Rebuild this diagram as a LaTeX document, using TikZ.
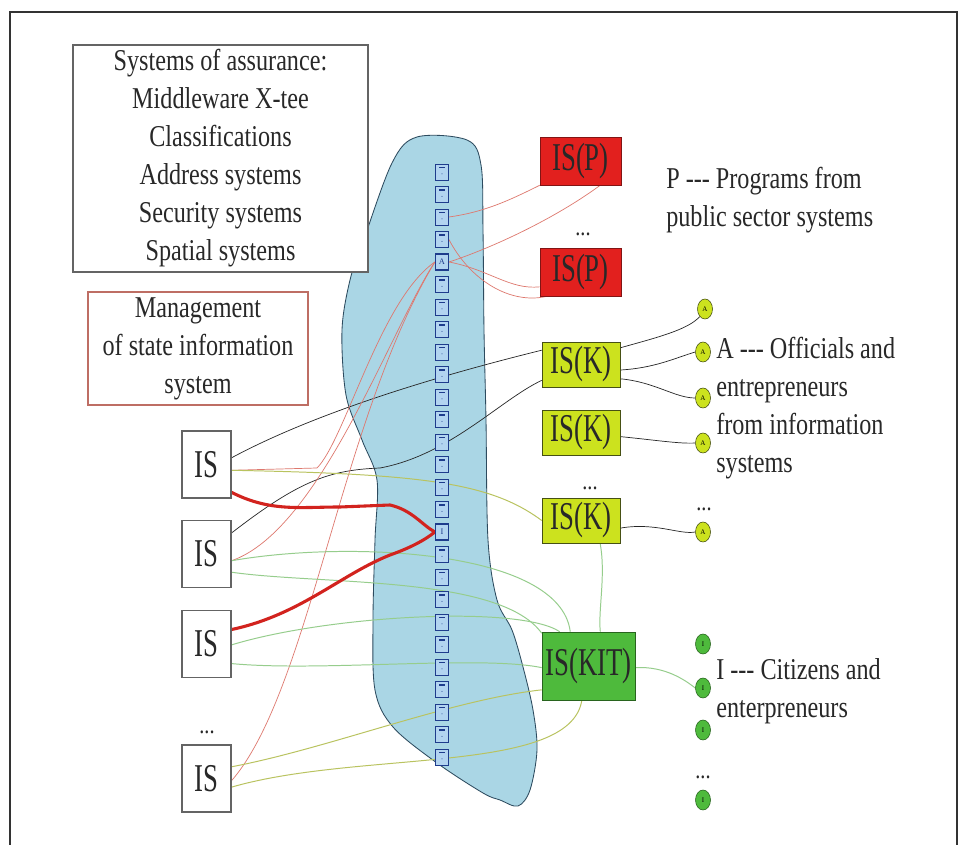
\documentclass[tikz,border=0pt]{standalone}
\usepackage{xcolor}
\usepackage{fontspec}
\setmainfont{Liberation Serif}
\newfontfamily\lblfont[FakeStretch=0.8]{Liberation Serif}
\newfontfamily\isfont[FakeStretch=0.68]{Liberation Serif}
\usepackage{tikz}
\usetikzlibrary{shapes.geometric}

\pgfdeclarelayer{bg}
\pgfdeclarelayer{lines}
\pgfsetlayers{bg,lines,main}

\definecolor{blobblue}{RGB}{170,214,229}
\definecolor{blobedge}{RGB}{45,75,95}
\definecolor{sqfill}{RGB}{178,212,240}
\definecolor{sqedge}{RGB}{30,60,140}
\definecolor{pred}{RGB}{226,32,30}
\definecolor{predge}{RGB}{130,20,20}
\definecolor{kyellow}{RGB}{204,226,30}
\definecolor{kedge}{RGB}{70,80,20}
\definecolor{kitgreen}{RGB}{78,186,60}
\definecolor{kitedge}{RGB}{40,100,30}
\definecolor{txtgray}{RGB}{40,40,40}
\definecolor{boxgray}{RGB}{100,100,100}
\definecolor{mgmtred}{RGB}{190,110,100}
\definecolor{thinred}{RGB}{222,120,110}
\definecolor{palegreen}{RGB}{150,205,140}
\definecolor{olivegreen}{RGB}{185,195,95}
\definecolor{thickred}{RGB}{210,35,30}

\begin{document}
\begin{tikzpicture}[x=0.025cm,y=-0.025cm]
      % Estilos
      \tikzstyle{txtbox}=[draw=boxgray, line width=0.8pt, fill=white, align=center, text=txtgray, font={\lblfont\fontsize{21.5}{27}\selectfont}]
      \tikzstyle{lbl}=[align=left, anchor=west, inner sep=0pt, text=txtgray, font={\lblfont\fontsize{21.5}{27}\selectfont}]
      \tikzstyle{dots}=[anchor=base, inner sep=0pt, text=txtgray, font={\lblfont\fontsize{18}{18}\selectfont}]
      \tikzstyle{isbox}=[draw=boxgray, line width=0.8pt, fill=white, minimum width=1.225cm, minimum height=1.675cm, inner sep=0pt, text=txtgray, font={\isfont\fontsize{28}{30}\selectfont}]
      \tikzstyle{pbox}=[draw=predge, fill=pred, minimum width=2.025cm, minimum height=1.2cm, inner sep=0pt, text=txtgray, font={\isfont\fontsize{28}{30}\selectfont}]
      \tikzstyle{kbox}=[draw=kedge, fill=kyellow, minimum width=1.95cm, minimum height=1.125cm, inner sep=0pt, text=txtgray, font={\isfont\fontsize{28}{30}\selectfont}]
      \tikzstyle{kitbox}=[draw=kitedge, fill=kitgreen, minimum width=2.325cm, minimum height=1.7cm, inner sep=0pt, text=txtgray, font={\isfont\fontsize{28}{30}\selectfont}]
      \tikzstyle{acirc}=[ellipse, draw=kedge, fill=kyellow, minimum width=0.375cm, minimum height=0.5cm, inner sep=0pt, font={\fontsize{5}{5}\selectfont}]
      \tikzstyle{icirc}=[ellipse, draw=kitedge, fill=kitgreen, minimum width=0.375cm, minimum height=0.5cm, inner sep=0pt, font={\fontsize{5}{5}\selectfont}]
      \tikzstyle{sq}=[draw=sqedge, fill=sqfill, line width=0.6pt, minimum width=0.325cm, minimum height=0.4cm, inner sep=0pt,
        path picture={\draw[sqedge, line width=0.8pt] ([xshift=-1.8pt,yshift=-2.5pt]path picture bounding box.north) -- ([xshift=1.8pt,yshift=-2.5pt]path picture bounding box.north);
                      \fill[sqedge] ([yshift=-7pt]path picture bounding box.north) circle (0.4pt);}]
      \tikzstyle{sqlet}=[draw=sqedge, fill=sqfill, line width=0.9pt, minimum width=0.325cm, minimum height=0.4cm, inner sep=0pt, text=sqedge, font={\fontsize{6}{6}\selectfont}]
      \tikzstyle{blk}=[draw=black!85, line width=0.5pt]
      \tikzstyle{rthin}=[draw=thinred, line width=0.5pt]
      \tikzstyle{gthin}=[draw=palegreen, line width=0.7pt]
      \tikzstyle{othin}=[draw=olivegreen, line width=0.7pt]
      \tikzstyle{rthick}=[draw=thickred, line width=2.2pt]

      \useasboundingbox (0,0) rectangle (961,845);

      % Fondo y marco
      \begin{pgfonlayer}{bg}
        \fill[white] (0,0) rectangle (961,845);
        \draw[blobedge, fill=blobblue, line width=0.6pt] plot[smooth cycle, tension=0.55] coordinates {
          (417,137) (467,140) (481,165) (483,230) (484,330) (486,420) (488,540) (497,600) (512,630)
          (523,667) (533,710) (537,750) (530,790) (518,806) (500,800) (483,793) (437,763) (393,727)
          (375,690) (373,620) (375,540) (377,480) (362,440) (346,395) (342,330) (350,280) (362,245) (392,163)};
      \end{pgfonlayer}
      \draw[black!80, line width=1pt] (10,845) -- (10,12) -- (957,12) -- (957,845);

      % Cuadros de texto
      \node[txtbox, minimum width=7.375cm, minimum height=5.575cm] (assure) at (220.5,158.5) {Systems of assurance:\\ Middleware X-tee\\ Classifications\\ Address systems\\ Security systems\\ Spatial systems};
      \node[txtbox, draw=mgmtred, minimum width=5.5cm, minimum height=2.825cm] (mgmt) at (198,348.5) {Management\\ of state information\\ system};

      % Sistemas IS
      \node[isbox] (is1) at (206.5,464.5) {IS};
      \node[isbox] (is2) at (206.5,554) {IS};
      \node[isbox] (is3) at (206.5,644) {IS};
      \node[dots] (isdots) at (207,733) {...};
      \node[isbox] (is4) at (206.5,778.5) {IS};

      % Columna de servicios
      \foreach \i in {0,...,26}{
        \ifnum\i=4 \else\ifnum\i=16 \else
          \node[sq] (sq\i) at (442,{172+22.5*\i}) {};
        \fi\fi
      }
      \node[sqlet] (sq4) at (442,262) {A};
      \node[sqlet] (sq16) at (442,532) {I};

      % Sistemas de la derecha
      \node[pbox] (isp1) at (580.5,161) {IS(P)};
      \node[dots] (pdots) at (583,236) {...};
      \node[pbox] (isp2) at (580.5,272) {IS(P)};
      \node[kbox] (isk1) at (581,364.5) {IS(K)};
      \node[kbox] (isk2) at (581,432.5) {IS(K)};
      \node[dots] (kdots) at (590,490) {...};
      \node[kbox] (isk3) at (581,520.5) {IS(K)};
      \node[kitbox] (iskit) at (588.5,666) {IS(KIT)};

      % Usuarios
      \node[acirc] (a1) at (705,309) {A};
      \node[acirc] (a2) at (703,352) {A};
      \node[acirc] (a3) at (703,398) {A};
      \node[acirc] (a4) at (703,443) {A};
      \node[dots] (adots) at (704,511) {...};
      \node[acirc] (a5) at (703,532) {A};
      \node[icirc] (i1) at (703,644) {I};
      \node[icirc] (i2) at (703,688) {I};
      \node[icirc] (i3) at (703,730) {I};
      \node[dots] (idots) at (703,778) {...};
      \node[icirc] (i4) at (703,800) {I};

      % Leyendas
      \node[lbl] (plbl) at (666,200) {P -\kern0pt-\kern0pt- Programs from\\ public sector systems};
      \node[lbl] (albl) at (716,408) {A -\kern0pt-\kern0pt- Officials and\\ entrepreneurs\\ from information\\ systems};
      \node[lbl] (ilbl) at (716,691) {I -\kern0pt-\kern0pt- Citizens and\\ enterpreneurs};

      % Conexiones
      \begin{pgfonlayer}{lines}
        \draw[blk] (is1.15) .. controls (330,405) and (470,368) .. (isk1.160);
        \draw[blk] (is2.40) .. controls (300,480) and (330,470) .. (380,468) .. controls (450,455) and (500,400) .. (isk1.-158);
        \draw[blk] (isk1.23) .. controls (655,338) and (688,330) .. (a1.235);
        \draw[blk] (isk1.-8) .. controls (655,368) and (675,358) .. (a2.west);
        \draw[blk] (isk1.-20) .. controls (655,382) and (675,398) .. (a3.west);
        \draw[blk] (isk2.-6) .. controls (655,440) and (680,444) .. (a4.west);
        \draw[blk] (isk3.-11) .. controls (655,522) and (680,535) .. (a5.west);

        \draw[rthin] (sq2.east) .. controls (485,212) and (510,200) .. (isp1.south west);
        \draw[rthin] (sq4.east) .. controls (500,245) and (560,215) .. (isp1.-51);
        \draw[rthin] (sq4.east) .. controls (490,270) and (510,290) .. (isp2.200);
        \draw[rthin] (sq3.east) .. controls (470,280) and (510,305) .. (isp2.216);
        \draw[rthin] (is1.-13) -- (317,468) .. controls (345,440) and (380,300) .. (sq4.west);
        \draw[rthin] (is2.-15) .. controls (320,530) and (390,330) .. (sq4.west);
        \draw[rthin] (is4.-5) .. controls (310,690) and (340,420) .. (sq4.west);

        \draw[othin] (is1.-13) .. controls (420,474) and (490,482) .. (isk3.west);
        \draw[othin] (is4.25) .. controls (330,748) and (450,700) .. (iskit.-153);
        \draw[othin] (is4.-19) .. controls (360,750) and (570,775) .. (iskit.-101);

        \draw[gthin] (is2.-15) .. controls (350,540) and (560,550) .. (iskit.118);
        \draw[gthin] (is2.-36) .. controls (320,585) and (500,575) .. (iskit.145);
        \draw[gthin] (is3.-2) .. controls (330,615) and (520,605) .. (iskit.130);
        \draw[gthin] (is3.-38) .. controls (320,672) and (480,655) .. (iskit.182);
        \draw[gthin] (isk3.-50) .. controls (606,575) and (598,610) .. (iskit.71);
        \draw[gthin] (iskit.-2) .. controls (665,666) and (685,680) .. (i2.west);

        \draw[rthick] (is1.-48) .. controls (270,512) and (300,507) .. (340,507) -- (390,505) .. controls (412,510) and (422,525) .. (sq16.west);
        \draw[rthick] (is3.30) .. controls (300,615) and (340,575) .. (390,555) .. controls (410,548) and (425,540) .. (sq16.west);
      \end{pgfonlayer}
\end{tikzpicture}
\end{document}
